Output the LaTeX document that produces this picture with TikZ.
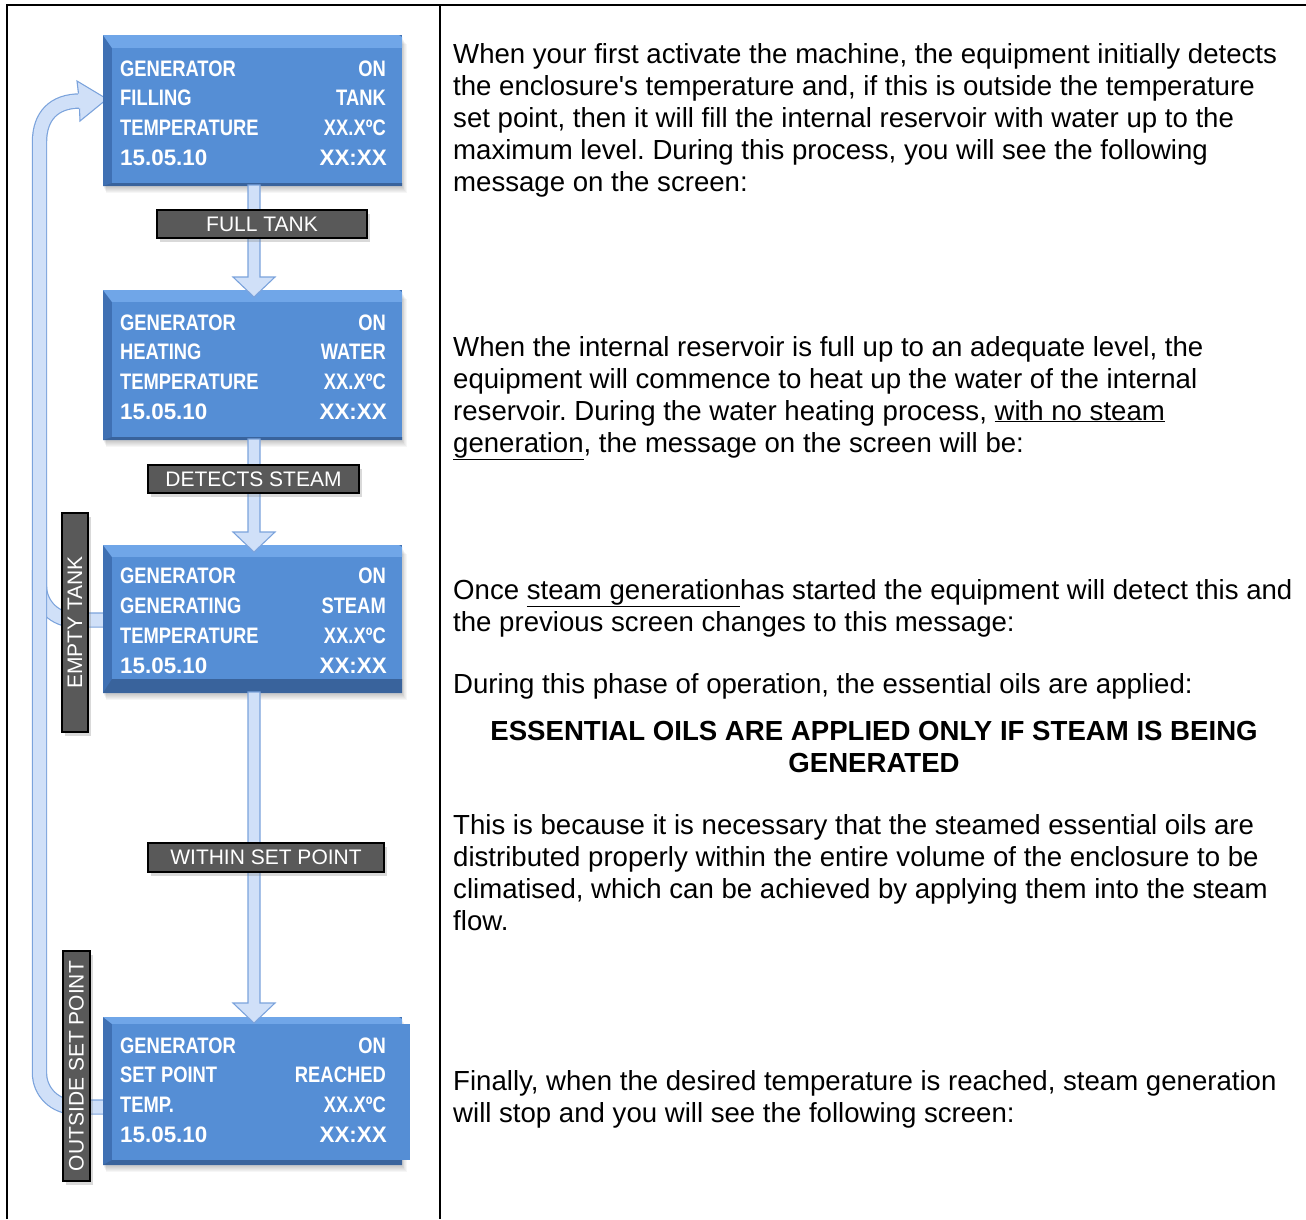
\documentclass[tikz,border=0pt]{standalone}
\usepackage{fontspec}
\setmainfont{Liberation Sans}
\newfontfamily\bodyfont{Liberation Sans}
\newfontfamily\scrfont[FakeStretch=0.82]{Liberation Sans}
\usetikzlibrary{shadows,calc}
\frenchspacing
\definecolor{facecol}{HTML}{558ED5}
\definecolor{toplight}{HTML}{70A6E8}
\definecolor{sidedark}{HTML}{3F70B3}
\definecolor{botdark}{HTML}{39639C}
\definecolor{flowfill}{HTML}{D0E0F8}
\definecolor{flowedge}{HTML}{7BA3DC}
\definecolor{labfill}{HTML}{595959}
\tikzset{
  screenface/.style={fill=facecol, inner sep=0pt, outer sep=0pt},
  scrtxt/.style={text=white, inner sep=0pt, font=\scrfont\bfseries\fontsize{22.4}{26}\selectfont},
  scrnum/.style={text=white, inner sep=0pt, font=\bodyfont\bfseries\fontsize{22.4}{26}\selectfont},
  bodytxt/.style={text=black, inner sep=0pt, font=\bodyfont\fontsize{27.6}{32}\selectfont},
  boldtxt/.style={text=black, inner sep=0pt, font=\bodyfont\bfseries\fontsize{27.6}{32}\selectfont},
  lab/.style={fill=labfill, draw=black, line width=1.3pt, text=white, inner sep=0pt,
    font=\bodyfont\fontsize{21}{24}\selectfont,
    drop shadow={opacity=0.3, shadow xshift=3pt, shadow yshift=-4pt}},
  flowpipe/.style={draw=flowedge, line width=1.2pt, double=flowfill, double distance=13pt},
  flowhead/.style={fill=flowfill, draw=flowedge, line width=1.1pt, line join=miter},
  frameline/.style={draw=black, line width=2pt}
}
\newcommand\drawscreen[6]{%
  \foreach \i in {1,...,6} \fill[black,opacity=0.035] (103+\i*0.5, #2+3+\i) rectangle (402+\i*0.8, #3+\i+1);
  \fill[sidedark] (103,#2) rectangle (402,#3);
  \fill[toplight] (103,#2) -- (399,#2) -- (402,#2+2) -- (402,#2+#4) -- (112,#2+#4) -- cycle;
  \fill[botdark] (103,#3) -- (112,#3-#5) -- (402,#3-#5) -- (402,#3) -- cycle;
  \node[screenface, anchor=north west, minimum width=#6-112, minimum height=#3-#5-#2-#4] (#1) at (112,#2+#4) {};
}
\newcommand\scrrow[4]{%
  \node[scrtxt, anchor=base west] (#1l) at (120,#2) {#3};
  \node[scrtxt, anchor=base east] (#1r) at (386,#2) {#4};
}
\newcommand\scrlast[2]{%
  \node[scrnum, anchor=base west] (#1l) at (120,#2) {15.05.10};
  \node[scrnum, anchor=base east] (#1r) at (387,#2) {XX:XX};
}
\newcommand\bodyline[3]{\node[bodytxt, anchor=base west] (#1) at (453,#2) {#3};}
\newcommand\ul[1]{\underline{#1}}
\newcommand\vflow[2]{%
  \path[flowhead] let \p1=(#1), \p2=(#2) in
    (\x1-6pt,\y1) -- (\x1-6pt,\y2+20pt) -- (\x1-21pt,\y2+20pt) -- (\x2,\y2)
    -- (\x1+21pt,\y2+20pt) -- (\x1+6pt,\y2+20pt) -- (\x1+6pt,\y1) -- cycle;
}
\begin{document}
\begin{tikzpicture}[x=1pt,y=-1pt]
\useasboundingbox (0,0) rectangle (1306,1219);
% frame
\draw[frameline] (7,1219) -- (7,5) -- (1306,5);
\draw[frameline] (440,5) -- (440,1219);

% loop connectors
\coordinate (l3) at (103,620);
\coordinate (l4) at (103,1107);
\coordinate (lend) at (80,101);
\draw[flowpipe] (l3) -- (74,620) .. controls (55,620) and (39.5,605) .. (39.5,586) -- (39.5,570);
\draw[flowpipe] (l4) -- (74,1107) .. controls (55,1107) and (39.5,1092) .. (39.5,1073)
   -- (39.5,142) .. controls (39.5,116) and (54,101) .. (lend);
\fill[flowfill] (77,81) -- (107,99) -- (80,121) -- cycle;
\draw[flowedge, line width=1.1pt, line join=miter] (78.5,93.5) -- (77,81) -- (107,99) -- (80,121) -- (79.5,108.5);

% screens
\drawscreen{s1}{35}{186}{13}{3}{402}
\drawscreen{s2}{290}{440}{12}{3}{402}
\drawscreen{s3}{545}{693}{12}{14}{402}
\drawscreen{s4}{1017}{1165}{7}{5}{410}

\scrrow{r11}{76}{GENERATOR}{ON}
\scrrow{r12}{105}{FILLING}{TANK}
\scrrow{r13}{135}{TEMPERATURE}{XX.XºC}
\scrlast{r14}{165}

\scrrow{r21}{330}{GENERATOR}{ON}
\scrrow{r22}{359}{HEATING}{WATER}
\scrrow{r23}{389}{TEMPERATURE}{XX.XºC}
\scrlast{r24}{419}

\scrrow{r31}{583}{GENERATOR}{ON}
\scrrow{r32}{613}{GENERATING}{STEAM}
\scrrow{r33}{643}{TEMPERATURE}{XX.XºC}
\scrlast{r34}{673}

\scrrow{r41}{1053}{GENERATOR}{ON}
\scrrow{r42}{1082}{SET POINT}{REACHED}
\scrrow{r43}{1112}{TEMP.}{XX.XºC}
\scrlast{r44}{1142}

% vertical flow arrows
\coordinate (a1s) at (254,185);
\coordinate (a1t) at (254,297);
\coordinate (a2s) at (254,439);
\coordinate (a2t) at (254,552);
\coordinate (a3s) at (254,692);
\coordinate (a3t) at (254,1023);
\vflow{a1s}{a1t}
\vflow{a2s}{a2t}
\vflow{a3s}{a3t}

% labels
\node[lab, minimum width=210, minimum height=28] (lfull) at (262,224) {FULL TANK};
\node[lab, minimum width=211, minimum height=28] (ldet) at (253.5,479) {DETECTS STEAM};
\node[lab, minimum width=236, minimum height=29] (lwithin) at (266,857.5) {WITHIN SET POINT};
\node[lab, rotate=90, minimum width=219, minimum height=26] (lempty) at (75,622.5) {EMPTY TANK};
\node[lab, rotate=90, minimum width=230, minimum height=27] (loutside) at (76.5,1066) {OUTSIDE SET POINT};

% right column text
\bodyline{p11}{63}{When your first activate the machine, the equipment initially detects}
\bodyline{p12}{95}{the enclosure's temperature and, if this is outside the temperature}
\bodyline{p13}{127}{set point, then it will fill the internal reservoir with water up to the}
\bodyline{p14}{159}{maximum level. During this process, you will see the following}
\bodyline{p15}{191}{message on the screen:}

\bodyline{p21}{356}{When the internal reservoir is full up to an adequate level, the}
\bodyline{p22}{388}{equipment will commence to heat up the water of the internal}
\bodyline{p23}{420}{reservoir. During the water heating process, \ul{with no steam}}
\bodyline{p24}{452}{\ul{generation}, the message on the screen will be:}

\bodyline{p31}{599}{Once \ul{steam generation}has started the equipment will detect this and}
\bodyline{p32}{631}{the previous screen changes to this message:}

\bodyline{p41}{693}{During this phase of operation, the essential oils are applied:}

\node[boldtxt, anchor=base] (b1) at (874,740) {ESSENTIAL OILS ARE APPLIED ONLY IF STEAM IS BEING};
\node[boldtxt, anchor=base] (b2) at (874,772) {GENERATED};

\bodyline{p51}{834}{This is because it is necessary that the steamed essential oils are}
\bodyline{p52}{866}{distributed properly within the entire volume of the enclosure to be}
\bodyline{p53}{898}{climatised, which can be achieved by applying them into the steam}
\bodyline{p54}{930}{flow.}

\bodyline{p61}{1090}{Finally, when the desired temperature is reached, steam generation}
\bodyline{p62}{1122}{will stop and you will see the following screen:}
\end{tikzpicture}
\end{document}
